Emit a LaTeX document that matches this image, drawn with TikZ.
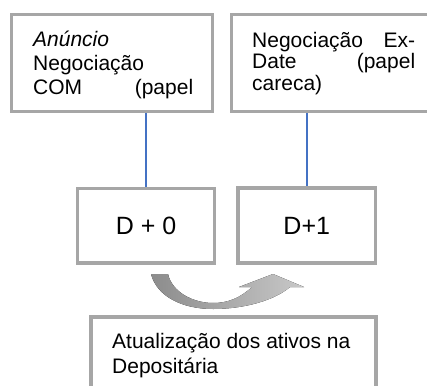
\documentclass[tikz,border=0pt]{standalone}
\usepackage{fontspec}
\setmainfont{Liberation Sans}
\usetikzlibrary{backgrounds}
\definecolor{bordergray}{HTML}{A6A6A6}
\definecolor{lineblue}{HTML}{4472C4}
\definecolor{arrowdark}{HTML}{8C8C8C}
\definecolor{arrowlight}{HTML}{C8C8C8}
\begin{document}
\begin{tikzpicture}[x=1pt,y=-1pt,
  box/.style={draw=bordergray, line width=3.5pt, fill=white, inner sep=0pt},
  txt/.style={anchor=base west, inner sep=0pt, font=\fontsize{21}{#1}\selectfont},
  dtxt/.style={font=\fontsize{25}{30}\selectfont},
  link/.style={draw=lineblue, line width=1.5pt}]
\useasboundingbox (0,0) rectangle (427,385);
% boxes
\node[box, minimum width=200.8pt, minimum height=97pt] (b1) at (112.1,63) {};
\node[box, minimum width=204.5pt, minimum height=97pt] (b2) at (333.75,63) {};
\node[box, dtxt, minimum width=137.2pt, minimum height=74.5pt] (d0) at (146.1,225.75) {D + 0};
\node[box, dtxt, minimum width=137.5pt, minimum height=75pt] (d1) at (306.75,225.5) {D+1};
\node[box, minimum width=285pt, minimum height=83pt] (b3) at (233.5,358.5) {};
% texts
\node[txt=24] (t1) at (33,46.5) {\parbox[t]{160pt}{\textit{Anúncio}\\Negociação\\COM\hfill(papel}};
\node[txt=21.5] (t2) at (252,47.5) {\parbox[t]{163pt}{Negociação\hfill Ex-\\Date\hfill(papel\\careca)}};
\node[txt=25] (t3) at (112,348) {\parbox[t]{250pt}{Atualização dos ativos na\\Depositária}};
% connectors
\begin{pgfonlayer}{background}
\draw[link] (d0.north) -- (d0.north |- b1.south);
\draw[link] (d1.north) -- (d1.north |- b2.south);
\end{pgfonlayer}
% curved arrow
\fill[left color=arrowdark, right color=arrowlight]
  (151,274) .. controls (157,297) and (183,309) .. (213,309)
  .. controls (245,309) and (275,300) .. (290,287)
  -- (304,287) -- (273,274) -- (239,287) -- (252,287)
  .. controls (240,298) and (228,303) .. (213,303)
  .. controls (193,303) and (172,292) .. (168,274) -- cycle;
\end{tikzpicture}
\end{document}
